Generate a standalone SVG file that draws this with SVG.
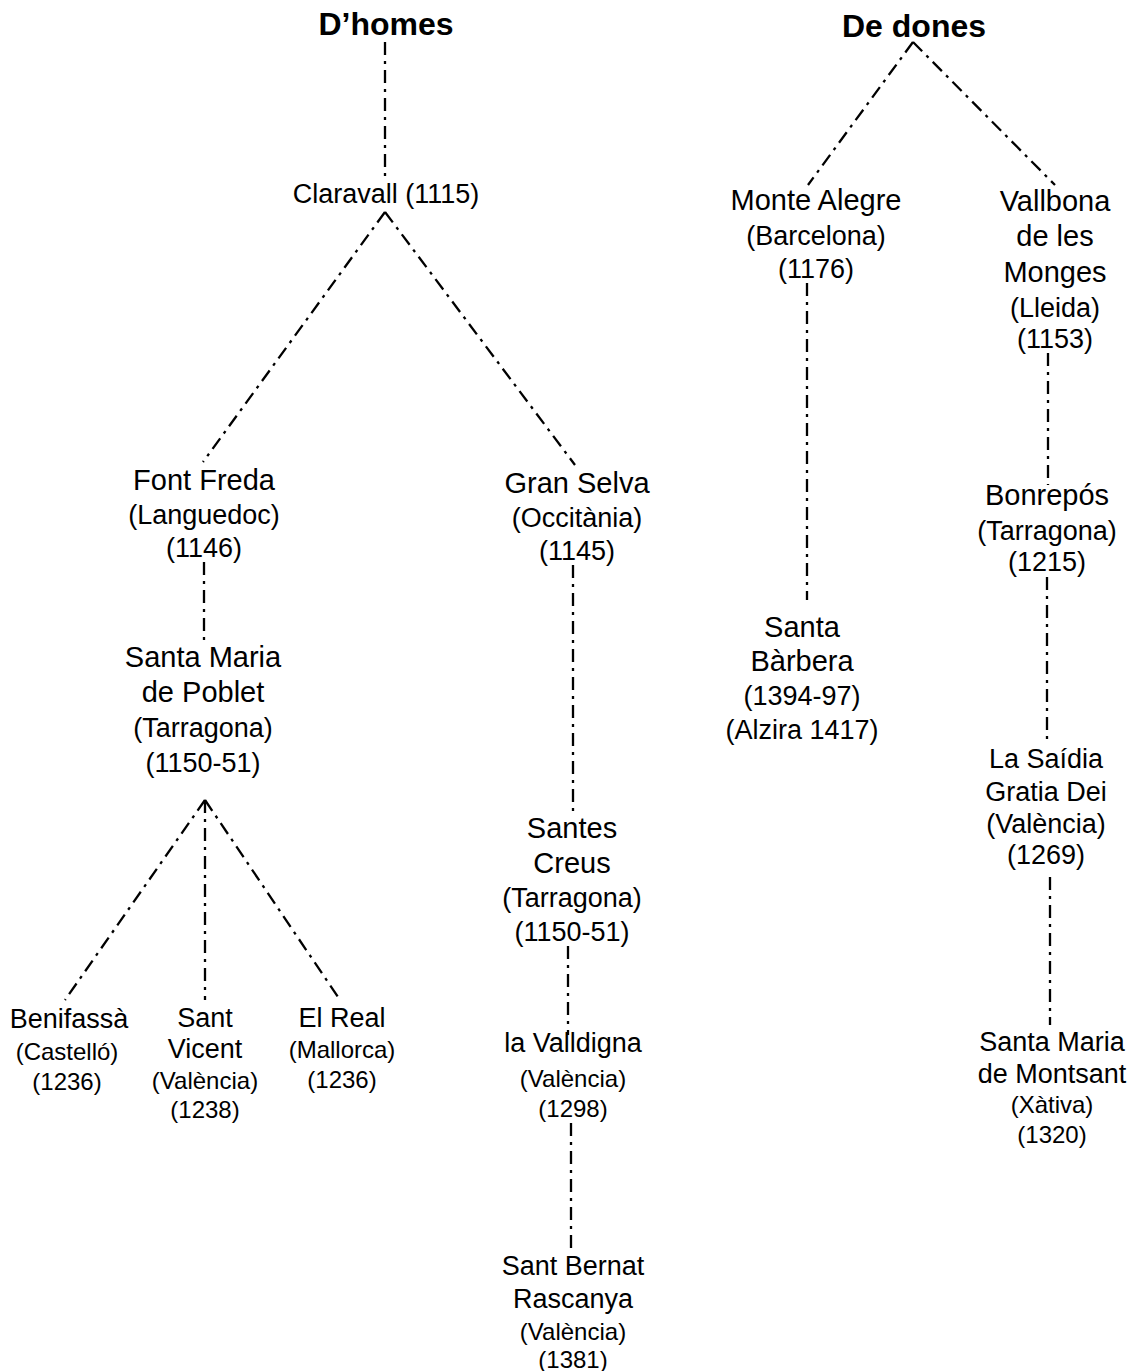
<svg xmlns="http://www.w3.org/2000/svg" width="1131" height="1371" viewBox="0 0 1131 1371">
<style>
text{font-family:"Liberation Sans",Arial,sans-serif;fill:#000;text-anchor:middle}
.t{font-size:32px;font-weight:bold}
.m{font-size:29px}
.s{font-size:27px}
.x{font-size:24px}
.c line{stroke:#000;stroke-width:2.3;stroke-dasharray:13 6 3 6;fill:none}
</style>
<rect width="1131" height="1371" fill="#fff"/>
<g class="c" id="connectors">
<line x1="385" y1="42" x2="385" y2="178"/>
<line x1="385" y1="212" x2="203" y2="462"/>
<line x1="385" y1="212" x2="575" y2="465"/>
<line x1="204" y1="562" x2="204" y2="640"/>
<line x1="205" y1="800" x2="65" y2="1000"/>
<line x1="205" y1="800" x2="205" y2="1000"/>
<line x1="205" y1="800" x2="340" y2="1000"/>
<line x1="573" y1="565" x2="573" y2="815"/>
<line x1="568" y1="946" x2="568" y2="1035"/>
<line x1="571" y1="1123" x2="571" y2="1250"/>
<line x1="913" y1="42" x2="808" y2="185"/>
<line x1="913" y1="42" x2="1055" y2="185"/>
<line x1="807" y1="283" x2="807" y2="600"/>
<line x1="1048" y1="353" x2="1048" y2="485"/>
<line x1="1047" y1="577" x2="1047" y2="740"/>
<line x1="1050" y1="877" x2="1050" y2="1025"/>
</g>
<g id="dhomes"><text class="t" x="386" y="35">D’homes</text></g>
<g id="dedones"><text class="t" x="914" y="37">De dones</text></g>
<g id="claravall"><text class="s" x="386" y="203">Claravall (1115)</text></g>
<g id="fontfreda">
<text class="m" x="204" y="490">Font Freda</text>
<text class="s" x="204" y="524">(Languedoc)</text>
<text class="s" x="204" y="557">(1146)</text>
</g>
<g id="poblet">
<text class="m" x="203" y="667">Santa Maria</text>
<text class="m" x="203" y="702">de Poblet</text>
<text class="s" x="203" y="737">(Tarragona)</text>
<text class="s" x="203" y="772">(1150-51)</text>
</g>
<g id="benifassa">
<text class="s" x="69" y="1028">Benifassà</text>
<text class="x" x="67" y="1060">(Castelló)</text>
<text class="x" x="67" y="1090">(1236)</text>
</g>
<g id="santvicent">
<text class="s" x="205" y="1027">Sant</text>
<text class="s" x="205" y="1058">Vicent</text>
<text class="x" x="205" y="1089">(València)</text>
<text class="x" x="205" y="1118">(1238)</text>
</g>
<g id="elreal">
<text class="s" x="342" y="1027">El Real</text>
<text class="x" x="342" y="1058">(Mallorca)</text>
<text class="x" x="342" y="1088">(1236)</text>
</g>
<g id="granselva">
<text class="m" x="577" y="493">Gran Selva</text>
<text class="s" x="577" y="527">(Occitània)</text>
<text class="s" x="577" y="560">(1145)</text>
</g>
<g id="santescreus">
<text class="m" x="572" y="838">Santes</text>
<text class="m" x="572" y="873">Creus</text>
<text class="s" x="572" y="907">(Tarragona)</text>
<text class="s" x="572" y="941">(1150-51)</text>
</g>
<g id="valldigna">
<text class="s" x="573" y="1052">la Valldigna</text>
<text class="x" x="573" y="1087">(València)</text>
<text class="x" x="573" y="1117">(1298)</text>
</g>
<g id="rascanya">
<text class="s" x="573" y="1275">Sant Bernat</text>
<text class="s" x="573" y="1308">Rascanya</text>
<text class="x" x="573" y="1340">(València)</text>
<text class="x" x="573" y="1368">(1381)</text>
</g>
<g id="montealegre">
<text class="m" x="816" y="210">Monte Alegre</text>
<text class="s" x="816" y="245">(Barcelona)</text>
<text class="s" x="816" y="278">(1176)</text>
</g>
<g id="santabarbera">
<text class="m" x="802" y="637">Santa</text>
<text class="m" x="802" y="671">Bàrbera</text>
<text class="s" x="802" y="705">(1394-97)</text>
<text class="s" x="802" y="739">(Alzira 1417)</text>
</g>
<g id="vallbona">
<text class="m" x="1055" y="211">Vallbona</text>
<text class="m" x="1055" y="246">de les</text>
<text class="m" x="1055" y="282">Monges</text>
<text class="s" x="1055" y="317">(Lleida)</text>
<text class="s" x="1055" y="348">(1153)</text>
</g>
<g id="bonrepos">
<text class="m" x="1047" y="505">Bonrepós</text>
<text class="s" x="1047" y="540">(Tarragona)</text>
<text class="s" x="1047" y="571">(1215)</text>
</g>
<g id="saidia">
<text class="s" x="1046" y="768">La Saídia</text>
<text class="s" x="1046" y="801">Gratia Dei</text>
<text class="s" x="1046" y="833">(València)</text>
<text class="s" x="1046" y="864">(1269)</text>
</g>
<g id="montsant">
<text class="s" x="1052" y="1051">Santa Maria</text>
<text class="s" x="1052" y="1083">de Montsant</text>
<text class="x" x="1052" y="1113">(Xàtiva)</text>
<text class="x" x="1052" y="1143">(1320)</text>
</g>
</svg>
